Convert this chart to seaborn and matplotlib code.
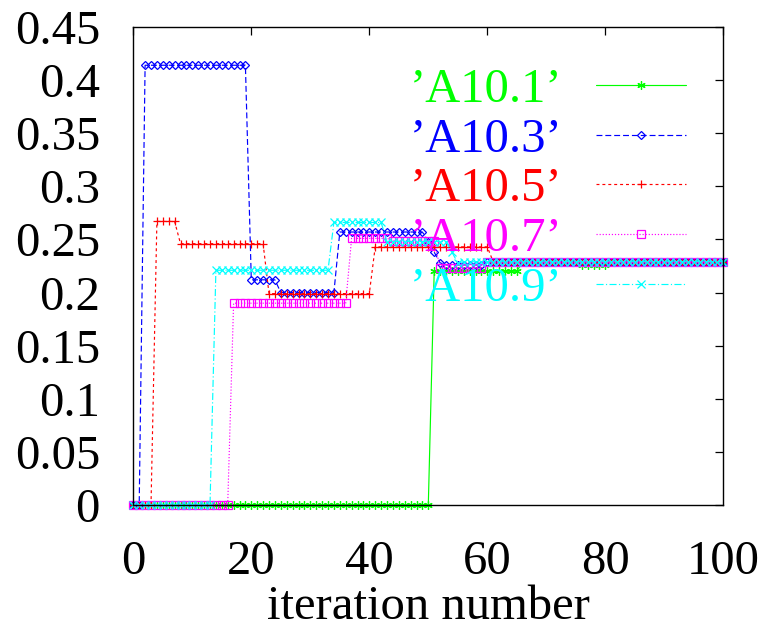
import matplotlib
matplotlib.use("Agg")
import matplotlib.pyplot as plt
import seaborn as sns
import pandas as pd

# ---- data (iterations 0..100) ----
iterations = list(range(101))

a10_1 = [0, 0, 0, 0, 0, 0, 0, 0, 0, 0,
         0, 0, 0, 0, 0, 0, 0, 0, 0, 0,
         0, 0, 0, 0, 0, 0, 0, 0, 0, 0,
         0, 0, 0, 0, 0, 0, 0, 0, 0, 0,
         0, 0, 0, 0, 0, 0, 0, 0, 0, 0,
         0, 0.22, 0.22, 0.22, 0.22, 0.22, 0.22, 0.22, 0.22, 0.22,
         0.22, 0.22, 0.22, 0.22, 0.22, 0.22, 0.229, 0.229, 0.229, 0.229,
         0.229, 0.229, 0.229, 0.229, 0.229, 0.229, 0.226, 0.226, 0.226, 0.226,
         0.226, 0.229, 0.229, 0.229, 0.229, 0.229, 0.229, 0.229, 0.229, 0.229,
         0.229, 0.229, 0.229, 0.229, 0.229, 0.229, 0.229, 0.229, 0.229, 0.229,
         0.229]

a10_3 = [0, 0, 0.414, 0.414, 0.414, 0.414, 0.414, 0.414, 0.414, 0.414,
         0.414, 0.414, 0.414, 0.414, 0.414, 0.414, 0.414, 0.414, 0.414, 0.414,
         0.212, 0.212, 0.212, 0.212, 0.212, 0.2, 0.2, 0.2, 0.2, 0.2,
         0.2, 0.2, 0.2, 0.2, 0.2, 0.257, 0.257, 0.257, 0.257, 0.257,
         0.257, 0.257, 0.257, 0.257, 0.257, 0.257, 0.257, 0.257, 0.257, 0.257,
         0.248, 0.238, 0.228, 0.226, 0.226, 0.226, 0.226, 0.226, 0.226, 0.226,
         0.229, 0.229, 0.229, 0.229, 0.229, 0.229, 0.229, 0.229, 0.229, 0.229,
         0.229, 0.229, 0.229, 0.229, 0.229, 0.229, 0.229, 0.229, 0.229, 0.229,
         0.229, 0.229, 0.229, 0.229, 0.229, 0.229, 0.229, 0.229, 0.229, 0.229,
         0.229, 0.229, 0.229, 0.229, 0.229, 0.229, 0.229, 0.229, 0.229, 0.229,
         0.229]

a10_5 = [0, 0, 0, 0, 0.267, 0.267, 0.267, 0.267, 0.246, 0.246,
         0.246, 0.246, 0.246, 0.246, 0.246, 0.246, 0.246, 0.246, 0.246, 0.246,
         0.246, 0.246, 0.246, 0.199, 0.199, 0.199, 0.199, 0.199, 0.199, 0.199,
         0.199, 0.199, 0.199, 0.199, 0.199, 0.199, 0.199, 0.199, 0.199, 0.199,
         0.199, 0.243, 0.243, 0.243, 0.243, 0.243, 0.243, 0.243, 0.243, 0.243,
         0.243, 0.243, 0.243, 0.243, 0.243, 0.243, 0.243, 0.243, 0.243, 0.243,
         0.243, 0.229, 0.229, 0.229, 0.229, 0.229, 0.229, 0.229, 0.229, 0.229,
         0.229, 0.229, 0.229, 0.229, 0.229, 0.229, 0.229, 0.229, 0.229, 0.229,
         0.229, 0.229, 0.229, 0.229, 0.229, 0.229, 0.229, 0.229, 0.229, 0.229,
         0.229, 0.229, 0.229, 0.229, 0.229, 0.229, 0.229, 0.229, 0.229, 0.229,
         0.229]

a10_7 = [0, 0, 0, 0, 0, 0, 0, 0, 0, 0,
         0, 0, 0, 0, 0, 0, 0, 0.19, 0.19, 0.19,
         0.19, 0.19, 0.19, 0.19, 0.19, 0.19, 0.19, 0.19, 0.19, 0.19,
         0.19, 0.19, 0.19, 0.19, 0.19, 0.19, 0.19, 0.251, 0.251, 0.251,
         0.251, 0.251, 0.251, 0.251, 0.249, 0.249, 0.249, 0.249, 0.249, 0.249,
         0.249, 0.249, 0.223, 0.223, 0.223, 0.223, 0.223, 0.223, 0.223, 0.223,
         0.229, 0.229, 0.229, 0.229, 0.229, 0.229, 0.229, 0.229, 0.229, 0.229,
         0.229, 0.229, 0.229, 0.229, 0.229, 0.229, 0.229, 0.229, 0.229, 0.229,
         0.229, 0.229, 0.229, 0.229, 0.229, 0.229, 0.229, 0.229, 0.229, 0.229,
         0.229, 0.229, 0.229, 0.229, 0.229, 0.229, 0.229, 0.229, 0.229, 0.229,
         0.229]

a10_9 = [0, 0, 0, 0, 0, 0, 0, 0, 0, 0,
         0, 0, 0, 0, 0.221, 0.221, 0.221, 0.221, 0.221, 0.221,
         0.221, 0.221, 0.221, 0.221, 0.221, 0.221, 0.221, 0.221, 0.221, 0.221,
         0.221, 0.221, 0.221, 0.221, 0.266, 0.266, 0.266, 0.266, 0.266, 0.266,
         0.266, 0.266, 0.266, 0.248, 0.248, 0.248, 0.248, 0.248, 0.248, 0.248,
         0.248, 0.248, 0.248, 0.248, 0.238, 0.228, 0.229, 0.229, 0.229, 0.229,
         0.229, 0.229, 0.229, 0.229, 0.229, 0.229, 0.229, 0.229, 0.229, 0.229,
         0.229, 0.229, 0.229, 0.229, 0.229, 0.229, 0.229, 0.229, 0.229, 0.229,
         0.229, 0.229, 0.229, 0.229, 0.229, 0.229, 0.229, 0.229, 0.229, 0.229,
         0.229, 0.229, 0.229, 0.229, 0.229, 0.229, 0.229, 0.229, 0.229, 0.229,
         0.229]

series_labels = ["\u2019A10.1\u2019", "\u2019A10.3\u2019", "\u2019A10.5\u2019",
                 "\u2019A10.7\u2019", "\u2019A10.9\u2019"]
series_values = [a10_1, a10_3, a10_5, a10_7, a10_9]

x_ticks = [0, 20, 40, 60, 80, 100]
y_ticks = [0, 0.05, 0.1, 0.15, 0.2, 0.25, 0.3, 0.35, 0.4, 0.45]
y_tick_labels = ["0", "0.05", "0.1", "0.15", "0.2", "0.25", "0.3", "0.35", "0.4", "0.45"]
x_label = "iteration number"

# ---- styles ----
colors = ["#00ff00", "#0000ff", "#ff0000", "#ff00ff", "#00ffff"]
markers = [(6, 2, 0), "D", "+", "s", "x"]
msizes = [6.0, 4.4, 6.0, 6.0, 5.5]
linestyles = ["-", (0, (5, 2.5)), (0, (2.5, 2.5)), (0, (1, 1.6)), (0, (6, 2, 1, 2))]
FS = 35

sns.set_style("white")
plt.rcParams["font.family"] = ["Liberation Serif", "DejaVu Serif"]

fig = plt.figure(figsize=(7.65, 6.32), dpi=100)
ax = fig.add_axes([133.3 / 765, (632 - 505) / 632, 590 / 765, 478 / 632])

for lab, vals, c, m, ms, ls in zip(series_labels, series_values, colors, markers, msizes, linestyles):
    df = pd.DataFrame({"iteration": iterations, "value": vals})
    sns.lineplot(data=df, x="iteration", y="value", ax=ax, color=c, marker=m,
                 markersize=ms, markeredgecolor=c, markerfacecolor="none",
                 markeredgewidth=0.9, linewidth=0.85, linestyle=ls, label=lab,
                 clip_on=False, legend=True)

for line, c in zip(ax.lines, colors):
    line.set_color(c)
    line.set_markeredgecolor(c)
    line.set_markerfacecolor("none")

ax.set_xlim(0, 100)
ax.set_ylim(0, 0.45)
ax.set_xticks(x_ticks)
ax.set_xticklabels([str(t) for t in x_ticks])
ax.set_yticks(y_ticks)
ax.set_yticklabels(y_tick_labels)
ax.set_xlabel(x_label, fontsize=FS, labelpad=1, color="black")
ax.set_ylabel("")

for sp in ax.spines.values():
    sp.set_visible(True)
    sp.set_linewidth(1.0)
    sp.set_color("black")

ax.tick_params(axis="both", which="both", direction="in", top=True, right=True,
               length=5.5, width=0.9, labelsize=FS, colors="black")
ax.tick_params(axis="x", pad=25)
ax.tick_params(axis="y", pad=24)

handles, labels = ax.get_legend_handles_labels()
leg = ax.legend(handles, labels, loc="upper right", bbox_to_anchor=(0.937, 0.915),
                frameon=False, markerfirst=False, fontsize=FS, borderpad=0,
                borderaxespad=0, handlelength=1.85, handletextpad=0.7,
                labelspacing=0.12, numpoints=1)
for txt, c in zip(leg.get_texts(), colors):
    txt.set_color(c)

fig.savefig("out.png", dpi=100)
